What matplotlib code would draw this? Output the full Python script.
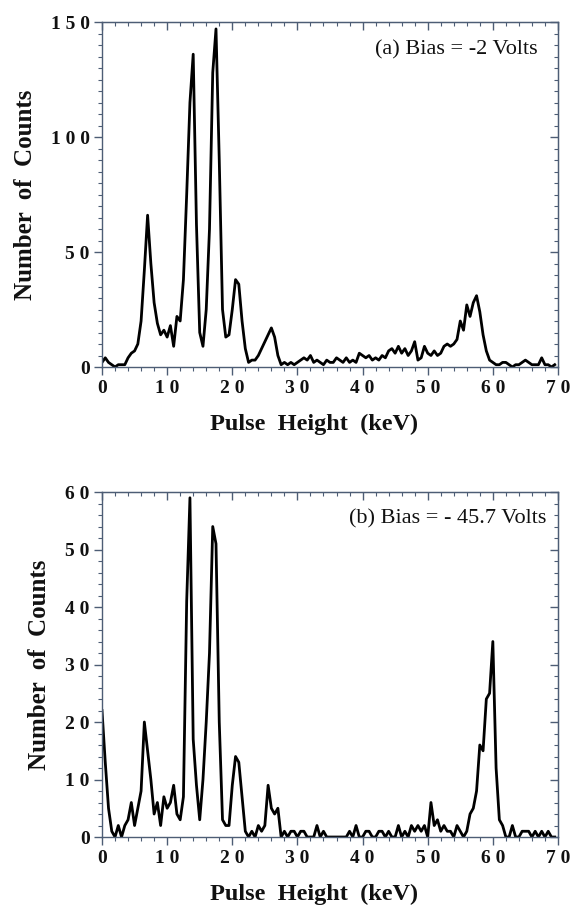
import numpy as np
import matplotlib
matplotlib.use("Agg")
import matplotlib.pyplot as plt
from matplotlib.ticker import MultipleLocator

# pulse height spectra, counts per 0.5 keV bin, starting at 0 keV
BIN_KEV = 0.5

counts_a = [
    2, 4, 2, 1, 0, 1, 1, 1, 4, 6,
    7, 10, 20, 42, 66, 45, 28, 19, 14, 16,
    13, 18, 9, 22, 20, 38, 75, 115, 136, 62,
    15, 9, 25, 60, 128, 147, 90, 25, 13, 14,
    25, 38, 36, 20, 8, 2, 3, 3, 5, 8,
    11, 14, 17, 13, 5, 1, 2, 1, 2, 1,
    2, 3, 4, 3, 5, 2, 3, 2, 1, 3,
    2, 2, 4, 3, 2, 4, 2, 3, 2, 6,
    5, 4, 5, 3, 4, 3, 5, 4, 7, 8,
    6, 9, 6, 8, 5, 7, 11, 3, 4, 9,
    6, 5, 7, 5, 6, 9, 10, 9, 10, 12,
    20, 16, 27, 22, 28, 31, 24, 14, 7, 3,
    2, 1, 1, 2, 2, 1, 0, 1, 1, 2,
    3, 2, 1, 1, 1, 4, 1, 1, 0, 1,
]

counts_b = [
    22, 13, 5, 1, 0, 2, 0, 2, 3, 6,
    2, 5, 8, 20, 15, 10, 4, 6, 2, 7,
    5, 6, 9, 4, 3, 7, 41, 59, 17, 9,
    3, 10, 20, 32, 54, 51, 20, 3, 2, 2,
    9, 14, 13, 7, 1, 0, 1, 0, 2, 1,
    2, 9, 5, 4, 5, 0, 1, 0, 1, 1,
    0, 1, 1, 0, 0, 0, 2, 0, 1, 0,
    0, 0, 0, 0, 0, 0, 1, 0, 2, 0,
    0, 1, 1, 0, 0, 1, 1, 0, 1, 0,
    0, 2, 0, 1, 0, 2, 1, 2, 1, 2,
    0, 6, 2, 3, 1, 2, 1, 1, 0, 2,
    1, 0, 1, 4, 5, 8, 16, 15, 24, 25,
    34, 12, 3, 2, 0, 0, 2, 0, 0, 1,
    1, 1, 0, 1, 0, 1, 0, 1, 0, 0,
]

x_ticks = [0, 10, 20, 30, 40, 50, 60, 70]
x_tick_labels = ["0", "1 0", "2 0", "3 0", "4 0", "5 0", "6 0", "7 0"]
y_ticks_a = [0, 50, 100, 150]
y_tick_labels_a = ["0", "5 0", "1 0 0", "1 5 0"]
y_ticks_b = [0, 10, 20, 30, 40, 50, 60]
y_tick_labels_b = ["0", "1 0", "2 0", "3 0", "4 0", "5 0", "6 0"]

label_a = "(a) Bias = -2 Volts"
label_b = "(b) Bias = - 45.7 Volts"

SERIF = "Liberation Serif"
AXIS_COLOR = "#4d5d75"


def setup_axes(ax, yticks, ylabels, yminor, xminor=2):
    ax.set_xlim(0, 70)
    ax.set_ylim(yticks[0], yticks[-1])
    for s in ax.spines.values():
        s.set_color(AXIS_COLOR)
        s.set_linewidth(1.0)
    ax.set_xticks(x_ticks)
    ax.set_xticklabels(x_tick_labels)
    ax.set_yticks(yticks)
    ax.set_yticklabels(ylabels)
    ax.xaxis.set_minor_locator(MultipleLocator(xminor))
    ax.yaxis.set_minor_locator(MultipleLocator(yminor))
    ax.tick_params(which="both", direction="out", color=AXIS_COLOR,
                   top=False, right=False, labelcolor="#111111")
    ax.tick_params(which="major", length=6, width=1.0, pad=3)
    ax.tick_params(which="minor", length=3, width=0.8)
    for lab in ax.get_xticklabels() + ax.get_yticklabels():
        lab.set_fontfamily(SERIF)
        lab.set_fontweight("bold")
        lab.set_fontsize(14)

    # mirrored ticks on top and right point inward
    top = ax.secondary_xaxis("top")
    top.set_xticks(x_ticks)
    top.xaxis.set_minor_locator(MultipleLocator(xminor))
    top.tick_params(which="both", direction="in", color=AXIS_COLOR, labeltop=False)
    top.tick_params(which="major", length=6, width=1.0)
    top.tick_params(which="minor", length=3, width=0.8)
    top.spines["top"].set_color(AXIS_COLOR)

    right = ax.secondary_yaxis("right")
    right.set_yticks(yticks)
    right.yaxis.set_minor_locator(MultipleLocator(yminor))
    right.tick_params(which="both", direction="in", color=AXIS_COLOR, labelright=False)
    right.tick_params(which="major", length=6, width=1.0)
    right.tick_params(which="minor", length=3, width=0.8)
    right.spines["right"].set_color(AXIS_COLOR)

    ax.set_xlabel("Pulse  Height  (keV)", fontfamily=SERIF, fontweight="bold",
                  fontsize=17.5, color="#111111")
    # the original label sits a little left of the axis centre
    ax.xaxis.set_label_coords(0.465, -0.135)
    ax.set_ylabel("Number  of  Counts", fontfamily=SERIF, fontweight="bold",
                  fontsize=18, labelpad=10, color="#111111")


fig = plt.figure(figsize=(5.75, 9.1), dpi=100)

energy_a = np.arange(len(counts_a)) * BIN_KEV
energy_b = np.arange(len(counts_b)) * BIN_KEV

ax1 = fig.add_axes([0.1774, 0.5967, 0.793, 0.3791])
ax1.plot(energy_a, counts_a, color="black", lw=2.0)
setup_axes(ax1, y_ticks_a, y_tick_labels_a, 5)
ax1.text(0.956, 0.919, label_a, transform=ax1.transAxes, ha="right", va="center",
         fontfamily=SERIF, fontsize=16, color="#111111")

ax2 = fig.add_axes([0.1774, 0.0802, 0.793, 0.3791])
ax2.plot(energy_b, counts_b, color="black", lw=2.0)
setup_axes(ax2, y_ticks_b, y_tick_labels_b, 2)
ax2.text(0.974, 0.922, label_b, transform=ax2.transAxes, ha="right", va="center",
         fontfamily=SERIF, fontsize=16, color="#111111")

fig.savefig("out.png", dpi=100)
